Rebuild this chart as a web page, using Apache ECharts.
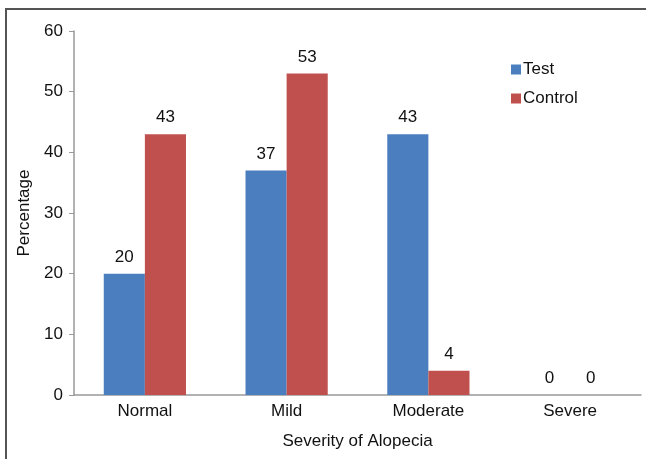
<!DOCTYPE html>
<html><head><meta charset="utf-8">
<script src="https://cdn.jsdelivr.net/npm/echarts@6/dist/echarts.min.js"></script>
<style>html,body{margin:0;padding:0;background:#fff}#c{width:646px;height:459px}</style>
</head><body><div id="c"></div>
<script>
const categories = ['Normal', 'Mild', 'Moderate', 'Severe'];
const testValues = [20, 37, 43, 0];
const controlValues = [43, 53, 4, 0];
const yTicks = [0, 10, 20, 30, 40, 50, 60];

const font = 'Liberation Sans, Arial, sans-serif';
const fs = 17;
const chart = echarts.init(document.getElementById('c'), null, {renderer: 'canvas'});
chart.setOption({
  animation: false,
  backgroundColor: '#fff',
  textStyle: {fontFamily: font},
  graphic: [{
    type: 'rect', shape: {x: 6, y: 9, width: 700, height: 500},
    style: {fill: 'none', stroke: '#555', lineWidth: 2}, silent: true
  }],
  grid: {left: 74, right: 5, top: 31, bottom: 64, containLabel: false},
  legend: {
    orient: 'vertical', left: 506, top: 56, itemGap: 12,
    itemWidth: 10, itemHeight: 10, icon: 'rect',
    textStyle: {fontFamily: font, fontSize: fs, color: '#111', padding: [0, 0, 0, -3]},
    data: ['Test', 'Control']
  },
  xAxis: {
    type: 'category', data: categories,
    axisLine: {lineStyle: {color: '#999', width: 1.5}},
    axisTick: {show: false},
    axisLabel: {fontFamily: font, fontSize: fs, color: '#111', margin: 8},
    name: 'Severity of Alopecia', nameLocation: 'middle', nameGap: 38,
    nameTextStyle: {fontFamily: font, fontSize: fs, color: '#111'}
  },
  yAxis: {
    type: 'value', min: yTicks[0], max: yTicks[yTicks.length - 1], interval: 10,
    axisLine: {show: true, lineStyle: {color: '#999', width: 1.5}},
    axisTick: {show: true, length: 5, lineStyle: {color: '#999'}},
    splitLine: {show: false},
    axisLabel: {fontFamily: font, fontSize: fs, color: '#111', margin: 11},
    name: 'Percentage', nameLocation: 'middle', nameGap: 38, nameRotate: 90,
    nameTextStyle: {fontFamily: font, fontSize: fs, color: '#111', padding: [0, 0, 0, 0], verticalAlign: 'middle'}
  },
  series: [{
    name: 'Test', type: 'bar', data: testValues, barGap: '0%', barCategoryGap: '42%',
    itemStyle: {color: '#4a7ebf'},
    label: {show: true, position: 'top', distance: 8, fontFamily: font, fontSize: fs, color: '#111'}
  }, {
    name: 'Control', type: 'bar', data: controlValues,
    itemStyle: {color: '#c0504d'},
    label: {show: true, position: 'top', distance: 8, fontFamily: font, fontSize: fs, color: '#111'}
  }]
});
</script></body></html>
